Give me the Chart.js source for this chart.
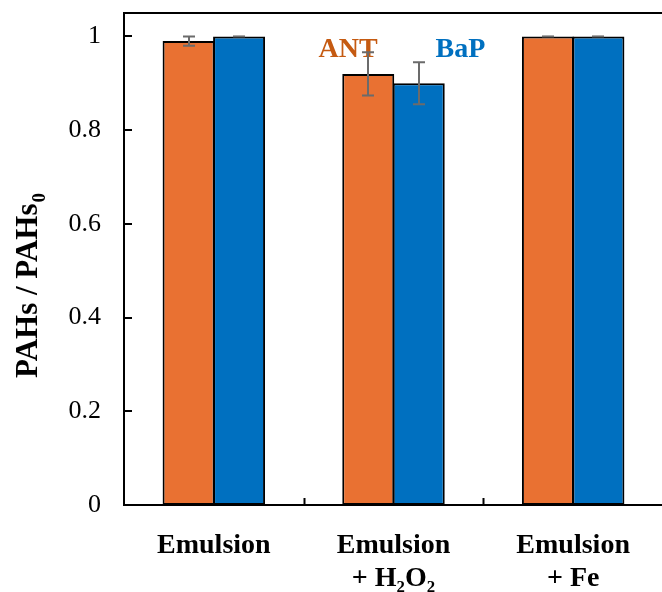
<!DOCTYPE html>
<html>
<head>
<meta charset="utf-8">
<script src="https://cdn.jsdelivr.net/npm/chart.js@4.4.1/dist/chart.umd.min.js"></script>
<style>
  html, body { margin: 0; padding: 0; background: #fff; overflow: hidden; }
  #wrap { position: absolute; left: 0; top: 0; width: 664px; height: 592px; }
</style>
</head>
<body>
<div id="wrap"><canvas id="barChart"></canvas></div>
<script>
// Relative residual PAHs after each treatment
const categories = [['Emulsion'], ['Emulsion', '+ H\u2082O\u2082'], ['Emulsion', '+ Fe']];
const antValues = [0.99, 0.92, 1.0];
const antErrors = [0.01, 0.046, 0];
const bapValues = [1.0, 0.90, 1.0];
const bapErrors = [0, 0.045, 0];
const seriesNames = ['ANT', 'BaP'];
const yTitle = 'PAHs / PAHs';
const yTitleSub = '0';

const SERIF = '"Liberation Serif", "Times New Roman", serif';
const ORANGE = '#E97132';
const BLUE = '#0070C0';

// frame on top plus inward tick marks
const framePlugin = {
  id: 'frame',
  afterDraw(chart) {
    const { ctx, chartArea: a, scales: { x, y } } = chart;
    ctx.save();
    ctx.strokeStyle = '#000';
    ctx.lineWidth = 2;
    ctx.beginPath();
    ctx.moveTo(a.left - 1, a.top);
    ctx.lineTo(a.right + 2, a.top);
    // y ticks pointing into the plot
    y.ticks.forEach(t => {
      const py = Math.round(y.getPixelForValue(t.value));
      ctx.moveTo(a.left, py);
      ctx.lineTo(a.left + 8, py);
    });
    // x ticks between categories
    for (let i = 0; i < categories.length - 1; i++) {
      const px = Math.round((x.getPixelForValue(i) + x.getPixelForValue(i + 1)) / 2) + 0.5;
      ctx.moveTo(px, a.bottom);
      ctx.lineTo(px, a.bottom - 7);
    }
    ctx.stroke();

    // y axis title with subscript
    ctx.fillStyle = '#000';
    ctx.translate(37, 378);
    ctx.rotate(-Math.PI / 2);
    ctx.textBaseline = 'alphabetic';
    ctx.textAlign = 'left';
    ctx.font = 'bold 31px ' + SERIF;
    ctx.fillText(yTitle, 0, 0);
    const w = ctx.measureText(yTitle).width;
    ctx.font = 'bold 19px ' + SERIF;
    ctx.fillText(yTitleSub, w + 1, 8);
    ctx.restore();
  }
};

// series names and error bars
const errorBarPlugin = {
  id: 'errorBars',
  afterDatasetsDraw(chart) {
    const { ctx, scales: { x, y } } = chart;
    ctx.save();
    ctx.font = 'bold 28px ' + SERIF;
    ctx.textBaseline = 'alphabetic';
    ctx.textAlign = 'left';
    const cx = x.getPixelForValue(1);
    const by = y.getPixelForValue(1) + 21;
    ctx.fillStyle = '#C55A11';
    ctx.fillText(seriesNames[0], cx - 75, by);
    ctx.fillStyle = BLUE;
    ctx.fillText(seriesNames[1], cx + 42, by);

    const errs = [antErrors, bapErrors];
    ctx.strokeStyle = '#6B6B6B';
    ctx.lineWidth = 2;
    chart.data.datasets.forEach((ds, di) => {
      const meta = chart.getDatasetMeta(di);
      meta.data.forEach((bar, i) => {
        const v = ds.data[i];
        const e = errs[di][i];
        const top = y.getPixelForValue(v + e);
        const bot = y.getPixelForValue(v - e);
        const bx = Math.round(bar.x);
        ctx.beginPath();
        if (e > 0) {
          ctx.moveTo(bx, top);
          ctx.lineTo(bx, bot);
          ctx.moveTo(bx - 6, bot);
          ctx.lineTo(bx + 6, bot);
        }
        ctx.moveTo(bx - 6, top);
        ctx.lineTo(bx + 6, top);
        ctx.stroke();
      });
    });
    ctx.restore();
  }
};

new Chart(document.getElementById('barChart'), {
  type: 'bar',
  data: {
    labels: categories,
    datasets: [
      {
        label: seriesNames[0],
        data: antValues,
        backgroundColor: ORANGE,
        borderColor: '#000',
        borderWidth: 2,
        borderSkipped: false
      },
      {
        label: seriesNames[1],
        data: bapValues,
        backgroundColor: BLUE,
        borderColor: '#000',
        borderWidth: 2,
        borderSkipped: false
      }
    ]
  },
  options: {
    responsive: true,
    maintainAspectRatio: false,
    animation: false,
    // bars slightly overlap so each pair shares one black edge
    categoryPercentage: 0.562,
    barPercentage: 1.03,
    layout: { padding: { top: 13, right: 1, left: 0, bottom: 0 } },
    plugins: {
      legend: { display: false },
      tooltip: { enabled: false }
    },
    scales: {
      x: {
        grid: { display: false, drawTicks: false },
        border: { display: true, color: '#000', width: 2 },
        ticks: {
          color: '#000',
          padding: 24,
          maxRotation: 0,
          font: { family: SERIF, size: 28, weight: 'bold', lineHeight: 1.18 }
        },
        afterFit: s => {
          s.height = 87;
          s.paddingLeft = 0;
          s.paddingRight = 0;
        }
      },
      y: {
        min: 0,
        max: 1.05,
        grid: { display: false, drawTicks: false },
        border: { display: true, color: '#000', width: 2 },
        ticks: {
          stepSize: 0.2,
          includeBounds: false,
          color: '#000',
          padding: 23,
          font: { family: SERIF, size: 26 },
          callback: v => String(Number(v.toFixed(1)))
        },
        afterFit: s => {
          s.width = 124;
          s.paddingTop = 0;
          s.paddingBottom = 0;
        }
      }
    }
  },
  plugins: [framePlugin, errorBarPlugin]
});
</script>
</body>
</html>
